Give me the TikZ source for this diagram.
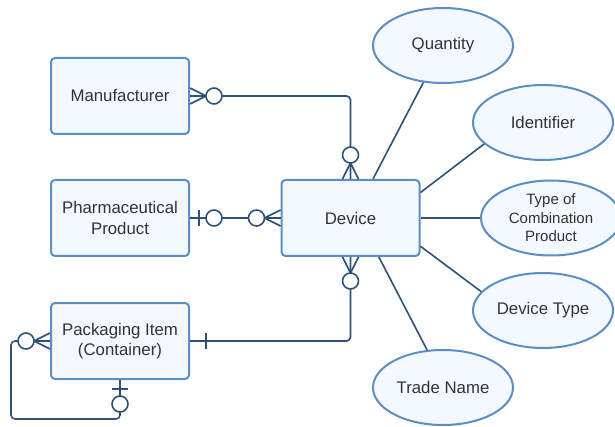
\documentclass[tikz,border=0pt]{standalone}
\usepackage{fontspec}
\setmainfont{Liberation Sans}
\usetikzlibrary{shapes.geometric,calc}
\definecolor{lineblue}{HTML}{2F5178}
\definecolor{boxblue}{HTML}{5B8EC4}
\definecolor{fillblue}{HTML}{F4F9FF}
\definecolor{txt}{HTML}{333333}
\begin{document}
\begin{tikzpicture}[x=1pt,y=-1pt,
  entity/.style={draw=boxblue, fill=fillblue, line width=2pt, rounded corners=4pt,
    minimum width=138pt, minimum height=76pt, inner sep=0pt, align=center,
    font=\fontsize{16.8}{20.5}\selectfont, text=txt},
  attr/.style={ellipse, draw=boxblue, fill=fillblue, line width=2pt,
    minimum width=140pt, minimum height=75pt, inner sep=0pt, align=center,
    font=\fontsize{16.8}{20.5}\selectfont, text=txt},
  conn/.style={draw=lineblue, line width=1.6pt},
  zcirc/.style={circle, draw=lineblue, line width=1.6pt, fill=white,
    minimum size=16pt, inner sep=0pt}
]
\useasboundingbox (0,0) rectangle (615,427);

% attributes
\node[attr] (qty) at (443,45.5) {Quantity};
\node[attr] (idf) at (543,122.5) {Identifier};
\node[attr, font=\fontsize{15}{18.5}\selectfont] (toc) at (551,218) {Type of\\Combination\\Product};
\node[attr] (dtp) at (543,310.5) {Device Type};
\node[attr] (trn) at (443,387.5) {Trade Name};

% entities
\node[entity] (man) at (120,96) {Manufacturer};
\node[entity] (pha) at (120,218) {Pharmaceutical\\Product};
\node[entity] (pkg) at (120,341) {Packaging Item\\(Container)};
\node[entity] (dev) at (350.5,218) {Device};

% attribute links
\draw[conn] (dev.60.5) -- (qty.242.5);
\draw[conn] (dev.20.5) -- (idf.200);
\draw[conn] (dev.east) -- (toc.west);
\draw[conn] (dev.338) -- (dtp.163.6);
\draw[conn] (dev.306) -- (trn.113);

% relationship lines
\draw[conn, rounded corners=4pt] (man.east) -| (dev.north);
\draw[conn] (pha.east) -- (dev.west);
\draw[conn, rounded corners=4pt] (dev.south) |- (pkg.east);
\draw[conn, rounded corners=4pt] (pkg.west) -- ++(-39,0) |- ($(pkg.south)+(0,39)$) -- (pkg.south);

% crow's feet
\draw[conn] ($(man.east)+(0,-8)$) -- ($(man.east)+(16,0)$) -- ($(man.east)+(0,8)$);
\draw[conn] ($(dev.north)+(-8,0)$) -- ($(dev.north)+(0,-16)$) -- ($(dev.north)+(8,0)$);
\draw[conn] ($(dev.west)+(0,-8)$) -- ($(dev.west)+(-16,0)$) -- ($(dev.west)+(0,8)$);
\draw[conn] ($(dev.south)+(-8,0)$) -- ($(dev.south)+(0,16)$) -- ($(dev.south)+(8,0)$);
\draw[conn] ($(pkg.west)+(0,-8)$) -- ($(pkg.west)+(-16,0)$) -- ($(pkg.west)+(0,8)$);

% bars
\draw[conn] ($(pha.east)+(9,-8)$) -- ++(0,16);
\draw[conn] ($(pkg.east)+(16,-8)$) -- ++(0,16);
\draw[conn] ($(pkg.south)+(-8,9)$) -- ++(16,0);

% circles
\node[zcirc] (c1) at ($(man.east)+(24,0)$) {};
\node[zcirc] (c2) at ($(dev.north)+(0,-24)$) {};
\node[zcirc] (c3) at ($(pha.east)+(24,0)$) {};
\node[zcirc] (c4) at ($(dev.west)+(-24,0)$) {};
\node[zcirc] (c5) at ($(dev.south)+(0,24)$) {};
\node[zcirc] (c6) at ($(pkg.west)+(-24,0)$) {};
\node[zcirc] (c7) at ($(pkg.south)+(0,24)$) {};
\end{tikzpicture}
\end{document}
